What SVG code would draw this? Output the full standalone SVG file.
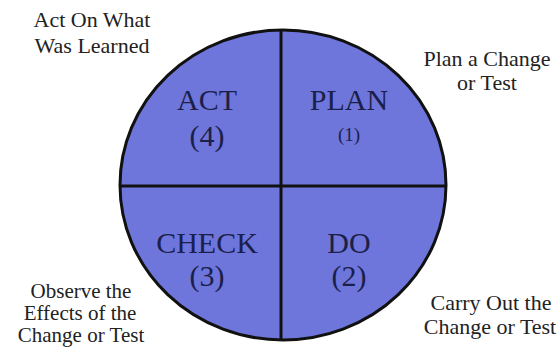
<svg xmlns="http://www.w3.org/2000/svg" width="560" height="358" viewBox="0 0 560 358">
<style>
text{font-family:"Liberation Serif","Times New Roman",serif;text-anchor:middle}
.q{fill:#1b1f4a}
.big{font-size:30px}
.lbl{fill:#222;font-size:22px}
.tight{font-size:21px}
</style>
<rect width="560" height="358" fill="#fff"/>
<g id="circle">
<ellipse cx="283" cy="185" rx="163" ry="155" fill="#6e76db" stroke="#111" stroke-width="3"/>
</g>
<g id="connectors">
<line x1="281" y1="30" x2="281" y2="340" stroke="#111" stroke-width="3"/>
<line x1="120" y1="186" x2="446" y2="186" stroke="#111" stroke-width="3"/>
</g>
<g id="act">
<text class="q big" x="207" y="110">ACT</text>
<text class="q big" x="207" y="146">(4)</text>
</g>
<g id="plan">
<text class="q big" x="349" y="110">PLAN</text>
<text class="q" x="349" y="141" font-size="19">(1)</text>
</g>
<g id="check">
<text class="q big" x="207" y="253">CHECK</text>
<text class="q big" x="207" y="286">(3)</text>
</g>
<g id="do">
<text class="q big" x="349" y="253">DO</text>
<text class="q big" x="349" y="286">(2)</text>
</g>
<g id="label-act">
<text class="lbl" x="92" y="27">Act On What</text>
<text class="lbl" x="92" y="53">Was Learned</text>
</g>
<g id="label-plan">
<text class="lbl" x="487" y="66">Plan a Change</text>
<text class="lbl" x="487" y="90">or Test</text>
</g>
<g id="label-check">
<text class="lbl tight" x="81" y="298">Observe the</text>
<text class="lbl tight" x="80" y="320">Effects of the</text>
<text class="lbl tight" x="81" y="342">Change or Test</text>
</g>
<g id="label-do">
<text class="lbl" x="491" y="310">Carry Out the</text>
<text class="lbl" x="490" y="334">Change or Test</text>
</g>
</svg>
